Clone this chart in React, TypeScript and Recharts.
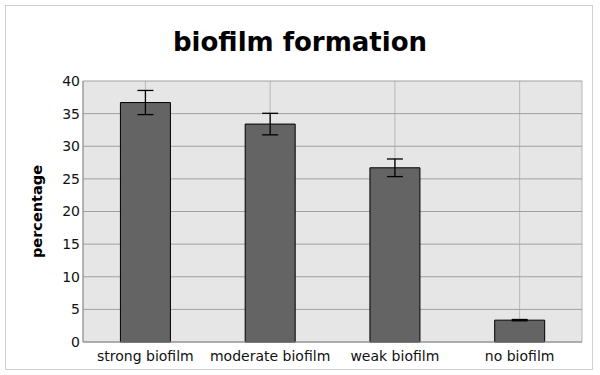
import React from 'react';
import { BarChart, Bar, XAxis, YAxis, CartesianGrid, ErrorBar, Label } from 'recharts';

const categories = ['strong biofilm', 'moderate biofilm', 'weak biofilm', 'no biofilm'];
const values = [36.7, 33.4, 26.7, 3.35];
const errors = [1.85, 1.65, 1.35, 0.1];
const yTicks = [0, 5, 10, 15, 20, 25, 30, 35, 40];

const data = categories.map((name, i) => ({ name, value: values[i], err: errors[i] }));

const font = 'DejaVu Sans, sans-serif';

export default function App() {
  return (
    <div style={{ position: 'absolute', left: 0, top: 0, width: 600, height: 375, background: '#fff', fontFamily: font }}>
      <div style={{ position: 'absolute', left: 5, top: 5, width: 588, height: 365, border: '1px solid #d0d0d0', boxSizing: 'border-box' }} />
      <div style={{ position: 'absolute', left: 0, top: 22, width: 600, textAlign: 'center', fontSize: 26, fontWeight: 'bold', color: '#000', lineHeight: '40px' }}>
        biofilm formation
      </div>
      <div style={{ position: 'absolute', left: 0, top: 0 }}>
        <BarChart width={600} height={375} data={data} margin={{ top: 81, right: 18, bottom: 0, left: 0 }} barCategoryGap="30%">
          <CartesianGrid horizontal={false} vertical={true} stroke="#b8b8b8" fill="#e6e6e6" />
          <CartesianGrid horizontal={true} vertical={false} stroke="#a0a0a0" />
          <XAxis
            dataKey="name"
            height={33}
            tickLine={false}
            axisLine={{ stroke: '#909090' }}
            tick={{ fontSize: 14, fill: '#111', fontFamily: font }}
            tickSize={6}
            tickMargin={3}
            interval={0}
          />
          <YAxis
            width={83}
            domain={[0, 40]}
            ticks={yTicks}
            tickLine={false}
            axisLine={{ stroke: '#909090' }}
            tick={{ fontSize: 14, fill: '#111', fontFamily: font }}
            tickSize={0}
            tickMargin={3}
            interval={0}
          >
            <Label value="percentage" angle={-90} position="insideLeft" offset={37} style={{ fontSize: 14.5, fontWeight: 'bold', fill: '#000', fontFamily: font, textAnchor: 'middle' }} />
          </YAxis>
          <Bar dataKey="value" fill="#646464" stroke="#000" strokeWidth={1} isAnimationActive={false}>
            <ErrorBar dataKey="err" width={8} stroke="#000" strokeWidth={1.3} />
          </Bar>
        </BarChart>
      </div>
    </div>
  );
}
